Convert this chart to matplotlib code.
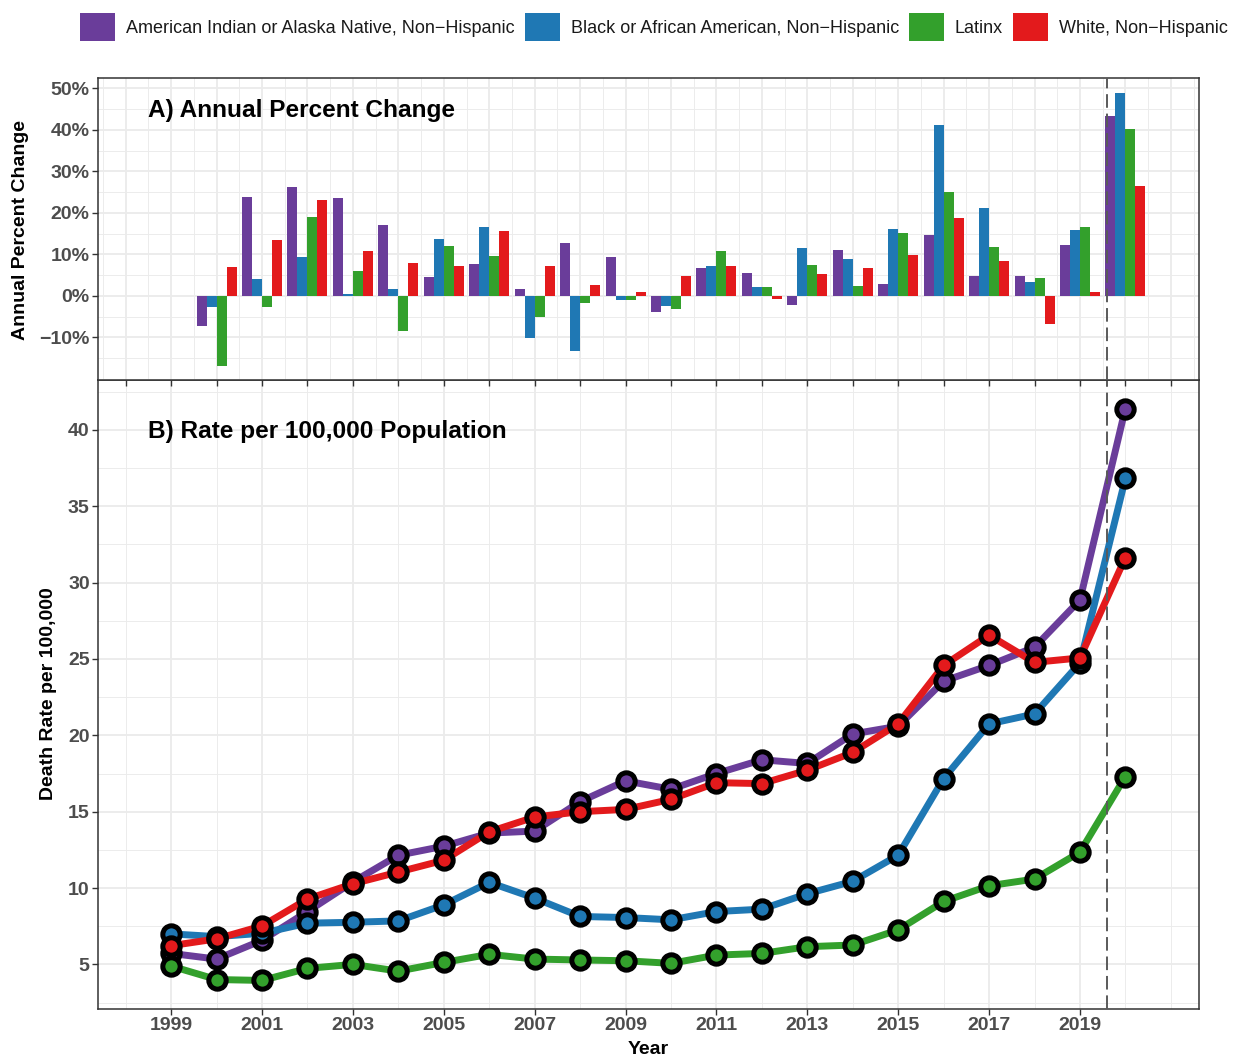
import matplotlib
matplotlib.use("Agg")
import matplotlib.pyplot as plt
import numpy as np
from matplotlib.patches import Patch
from matplotlib.ticker import MultipleLocator, FixedLocator, FuncFormatter

plt.rcParams['font.family'] = ['Liberation Sans', 'DejaVu Sans']

# ---------------- data ----------------
groups = ["American Indian or Alaska Native, Non\u2212Hispanic",
          "Black or African American, Non\u2212Hispanic",
          "Latinx",
          "White, Non\u2212Hispanic"]
colors = ["#6A3D9A", "#1F78B4", "#33A02C", "#E31A1C"]

years = list(range(1999, 2021))
rate_aian = [5.72, 5.35, 6.58, 8.46, 10.40, 12.15, 12.74, 13.60, 13.73, 15.66, 17.02,
             16.47, 17.50, 18.40, 18.16, 20.09, 20.60, 23.55, 24.58, 25.77, 28.86, 41.40]
rate_black = [7.00, 6.82, 7.04, 7.70, 7.76, 7.85, 8.90, 10.37, 9.34, 8.14, 8.07,
              7.92, 8.46, 8.62, 9.63, 10.44, 12.15, 17.17, 20.75, 21.40, 24.74, 36.82]
rate_latinx = [4.89, 4.01, 3.95, 4.74, 5.00, 4.56, 5.13, 5.66, 5.35, 5.29, 5.24,
               5.07, 5.61, 5.72, 6.16, 6.27, 7.26, 9.12, 10.15, 10.59, 12.35, 17.30]
rate_white = [6.23, 6.67, 7.52, 9.28, 10.28, 11.05, 11.82, 13.68, 14.65, 15.00, 15.15,
              15.81, 16.90, 16.84, 17.72, 18.88, 20.75, 24.58, 26.56, 24.78, 25.07, 31.64]

pct_years = list(range(2000, 2021))
pct_aian = [-7.2, 23.8, 26.2, 23.5, 17.1, 4.5, 7.7, 1.6, 12.8, 9.3, -4.0,
            6.7, 5.6, -2.2, 11.0, 2.9, 14.7, 4.8, 4.8, 12.3, 43.3]
pct_black = [-2.8, 4.0, 9.3, 0.4, 1.6, 13.6, 16.6, -10.2, -13.4, -1.0, -2.4,
             7.2, 2.2, 11.5, 8.8, 16.0, 41.2, 21.1, 3.4, 15.8, 49.0]
pct_latinx = [-17.0, -2.6, 19.0, 5.9, -8.5, 12.0, 9.6, -5.0, -1.8, -1.0, -3.2,
              10.7, 2.2, 7.4, 2.4, 15.2, 25.1, 11.7, 4.2, 16.7, 40.2]
pct_white = [6.9, 13.4, 23.0, 10.7, 8.0, 7.2, 15.5, 7.2, 2.6, 1.0, 4.8,
             7.2, -0.8, 5.3, 6.6, 9.9, 18.7, 8.3, -6.9, 1.0, 26.5]

rate_series = [rate_aian, rate_black, rate_latinx, rate_white]
pct_series = [pct_aian, pct_black, pct_latinx, pct_white]

x_major_labels = list(range(1999, 2020, 2))
pct_ticks = list(range(-10, 51, 10))
rate_ticks = list(range(5, 41, 5))
cutoff_year = 2019.6

# ---------------- figure ----------------
W, H = 1233, 1059
fig = plt.figure(figsize=(W / 100, H / 100), dpi=100)

def fx(px):
    return px / W

def fy(py):
    return 1 - py / H

left, right = 98, 1199
ax1 = fig.add_axes([fx(left), fy(380), (right - left) / W, (380 - 78) / H])
ax2 = fig.add_axes([fx(left), fy(1009), (right - left) / W, (1009 - 380) / H])
ax1.set_zorder(3)

xlim = (1997.39, 2021.62)
grid_col = "#EBEBEB"
tick_col = "#4D4D4D"
border_col = "#333333"

for ax in (ax1, ax2):
    ax.set_xlim(*xlim)
    ax.set_facecolor("white")
    for s in ax.spines.values():
        s.set_color(border_col)
        s.set_linewidth(1.1)
    ax.tick_params(axis='both', which='major', length=4, width=1.0, color=border_col,
                   labelsize=14, labelcolor=tick_col, pad=2)
    ax.tick_params(axis='both', which='minor', length=0)
    ax.grid(True, which='major', color=grid_col, lw=1.3, zorder=0)
    ax.grid(True, which='minor', color=grid_col, lw=0.65, zorder=0)
    ax.set_axisbelow(True)

# ---- top panel: bars ----
ax1.set_ylim(-20.3, 52.5)
ax1.yaxis.set_major_locator(FixedLocator(pct_ticks))
ax1.yaxis.set_minor_locator(FixedLocator(np.arange(-20, 51, 5)))
ax1.yaxis.set_major_formatter(FuncFormatter(
    lambda v, p: (f"{int(round(v))}%" if v >= 0 else f"\u2212{int(round(-v))}%")))
ax1.xaxis.set_major_locator(MultipleLocator(1))
ax1.xaxis.set_minor_locator(MultipleLocator(0.5))
ax1.tick_params(axis='x', labelbottom=False)

bw = 0.22
offsets = [-1.5, -0.5, 0.5, 1.5]
px = np.array(pct_years, dtype=float)
for vals, c, off in zip(pct_series, colors, offsets):
    ax1.bar(px + off * bw, vals, width=bw, color=c, edgecolor='none', zorder=2)
ax1.axvline(cutoff_year, color="#5A5A5A", lw=1.4, ls=(0, (7, 3)), zorder=3)
ax1.text(0.0454, 0.871, "A) Annual Percent Change", transform=ax1.transAxes,
         fontsize=17.6, fontweight='bold', color='black', va='baseline', ha='left')

# ---- bottom panel: lines ----
ax2.set_ylim(2.08, 43.27)
ax2.yaxis.set_major_locator(FixedLocator(rate_ticks))
ax2.yaxis.set_minor_locator(FixedLocator(np.arange(2.5, 45, 5)))
ax2.xaxis.set_major_locator(FixedLocator(x_major_labels))
ax2.xaxis.set_minor_locator(FixedLocator(list(range(1998, 2022))))
ax2.set_xticklabels([str(y) for y in x_major_labels])

for vals, c in zip(rate_series, colors):
    ax2.plot(years, vals, color=c, lw=5.0, solid_capstyle='butt', zorder=2)
for vals, c in zip(rate_series, colors):
    ax2.plot(years, vals, ls='none', marker='o', ms=12.5, mfc=c, mec='black', mew=3.6, zorder=4)
ax2.axvline(cutoff_year, color="#5A5A5A", lw=1.4, ls=(0, (7, 3)), zorder=3)
ax2.text(0.0454, 0.908, "B) Rate per 100,000 Population", transform=ax2.transAxes,
         fontsize=17.6, fontweight='bold', color='black', va='baseline', ha='left')

for ax in (ax1, ax2):
    for lab in ax.get_xticklabels() + ax.get_yticklabels():
        lab.set_fontweight('bold')

# ---- axis titles ----
fig.text(fx(21), fy(230), "Annual Percent Change", rotation=90, ha='center', va='center',
         fontsize=14, fontweight='bold', color='black')
fig.text(fx(49), fy(694), "Death Rate per 100,000", rotation=90, ha='center', va='center',
         fontsize=14, fontweight='bold', color='black')
fig.text(fx(648), fy(1049), "Year", ha='center', va='center',
         fontsize=14, fontweight='bold', color='black')

# ---- legend ----
handles = [Patch(facecolor=c, edgecolor='none') for c in colors]
fig.legend(handles, groups, loc='center', bbox_to_anchor=(fx(654), fy(27)), ncol=4,
           frameon=False, fontsize=13, handlelength=1.94, handleheight=1.94,
           handletextpad=0.6, columnspacing=0.55, borderpad=0, borderaxespad=0,
           labelcolor="#1A1A1A")

fig.savefig("out.png", dpi=100)
